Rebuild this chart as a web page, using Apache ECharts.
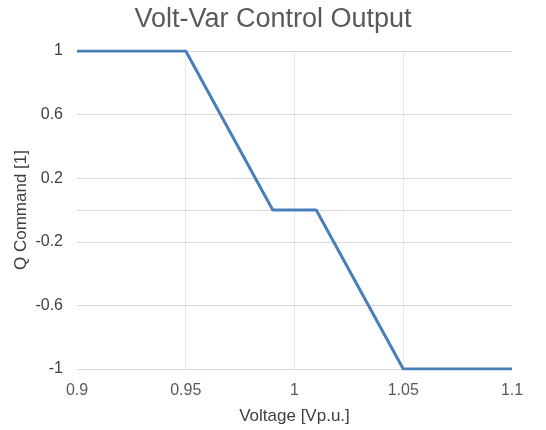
<!DOCTYPE html>
<html>
<head>
<meta charset="utf-8">
<script src="https://cdn.jsdelivr.net/npm/echarts@6/dist/echarts.min.js"></script>
<style>html,body{margin:0;padding:0;background:#fff}#c{width:546px;height:430px}</style>
</head>
<body>
<div id="c"></div>
<script>
const voltage = [0.9, 0.95, 0.99, 1.01, 1.05, 1.1];
const qCommand = [1, 1, 0, 0, -1, -1];
const yTicks = [-1, -0.6, -0.2, 0.2, 0.6, 1];
const titleText = 'Volt-Var Control Output';
const xName = 'Voltage [Vp.u.]';
const yName = 'Q Command [1]';

const chart = echarts.init(document.getElementById('c'));
const font = 'Liberation Sans, Arial, sans-serif';
chart.setOption({
  animation: false,
  title: {
    text: titleText, left: 'center', top: 1,
    textStyle: { fontFamily: font, fontSize: 27, fontWeight: 'normal', color: '#595959' }
  },
  grid: { left: 77, right: 34, top: 51, bottom: 61 },
  xAxis: {
    type: 'value', min: 0.9, max: 1.1, interval: 0.05,
    name: xName, nameLocation: 'middle', nameGap: 39,
    nameTextStyle: { fontFamily: font, fontSize: 17, color: '#404040' },
    axisLine: { show: false }, axisTick: { show: false },
    axisLabel: { fontFamily: font, fontSize: 16, color: '#595959', margin: 14,
      formatter: v => String(+v.toFixed(2)) },
    splitLine: { show: true, showMinLine: false, showMaxLine: false, lineStyle: { color: '#e6e6e6', width: 1 } }
  },
  yAxis: {
    type: 'value', min: -1, max: 1,
    name: yName, nameLocation: 'middle', nameGap: 47, nameMoveOverlap: false,
    nameTextStyle: { fontFamily: font, fontSize: 17, color: '#404040' },
    axisLine: { show: false },
    axisLabel: { fontFamily: font, fontSize: 16, color: '#404040', margin: 14,
      customValues: yTicks, formatter: v => String(+v.toFixed(2)) },
    axisTick: { show: false, customValues: yTicks },
    splitLine: { show: false }
  },
  series: [{
    type: 'line',
    data: voltage.map((v, i) => [v, qCommand[i]]),
    showSymbol: false,
    lineStyle: { color: '#4a7ebb', width: 3 },
    itemStyle: { color: '#4a7ebb' },
    z: 5,
    markLine: {
      silent: true, symbol: 'none', label: { show: false },
      lineStyle: { color: '#d9d9d9', width: 1, type: 'solid' },
      data: yTicks.concat([0]).map(t => ({ yAxis: t }))
    }
  }]
});
</script>
</body>
</html>
